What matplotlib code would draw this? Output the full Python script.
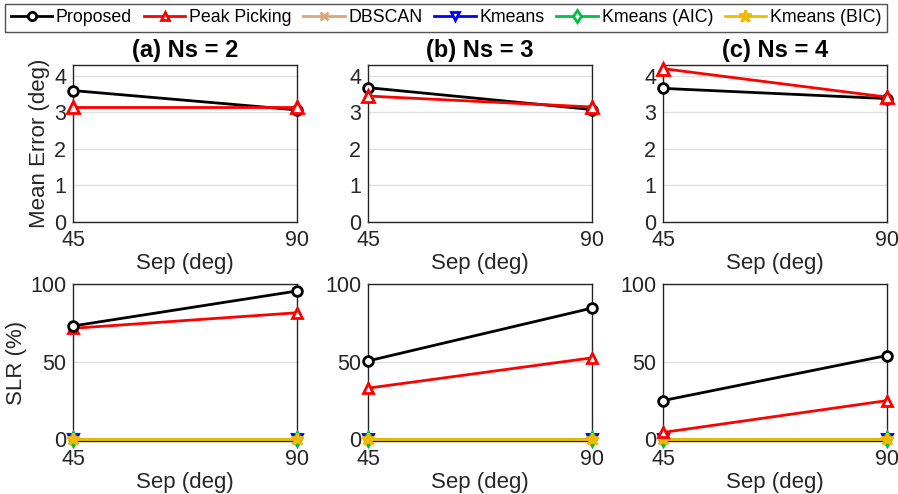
import numpy as np
import matplotlib.pyplot as plt
from matplotlib.lines import Line2D

plt.rcParams['font.family'] = ['Liberation Sans', 'DejaVu Sans']

# data
sep = [45, 90]
titles = ['(a) Ns = 2', '(b) Ns = 3', '(c) Ns = 4']
methods = ['Proposed', 'Peak Picking', 'DBSCAN', 'Kmeans', 'Kmeans (AIC)', 'Kmeans (BIC)']

# mean error (deg) per panel, only Proposed and Peak Picking shown
err_proposed = [[3.60, 3.07], [3.68, 3.08], [3.66, 3.38]]
err_peak = [[3.15, 3.15], [3.45, 3.15], [4.20, 3.42]]

# SLR (%) per panel
slr_proposed = [[73, 95.5], [50.5, 84.5], [25, 54]]
slr_peak = [[71.5, 81.5], [33, 52.5], [4.5, 25]]
slr_zero = [[0, 0], [0, 0], [0, 0]]

colors = ['black', '#FF0000', '#D9A677', '#0000FF', '#00C040', '#F5B800']
markers = ['o', '^', 'x', 'v', 'd', '*']

fig = plt.figure(figsize=(8.98, 4.94), dpi=100)
W, H = 898, 494
lefts = [73, 368, 663]
width = 224

def px_axes(l, t, w, h):
    return fig.add_axes([l / W, 1 - (t + h) / H, w / W, h / H])

def style(ax, ylim, yticks):
    ax.set_xlim(45, 90)
    ax.set_ylim(*ylim)
    ax.set_xticks(sep)
    ax.set_yticks(yticks)
    ax.grid(axis='y', color='#e0e0e0', linewidth=1)
    ax.set_axisbelow(True)
    ax.tick_params(labelsize=15.5, length=0, colors='#262626')
    ax.tick_params(axis='x', pad=6)
    ax.tick_params(axis='y', pad=5)
    for s in ax.spines.values():
        s.set_color('#262626')
        s.set_linewidth(1.0)
    ax.set_xlabel('Sep (deg)', fontsize=16, color='#262626', labelpad=1)

for i in range(3):
    # top row: mean error
    ax = px_axes(lefts[i], 65, width, 157)
    ax.plot(sep, err_proposed[i], color=colors[0], marker='o', mfc='white',
            mec=colors[0], mew=2, ms=7, lw=2, clip_on=False, zorder=4)
    ax.plot(sep, err_peak[i], color=colors[1], marker='^', mfc='white',
            mec=colors[1], mew=2, ms=8, lw=2, clip_on=False, zorder=5)
    style(ax, (0, 4.3), [0, 1, 2, 3, 4])
    ax.set_title(titles[i], fontsize=17, fontweight='bold', pad=6)
    if i == 0:
        ax.set_ylabel('Mean Error (deg)', fontsize=16, color='#262626', labelpad=3)

    # bottom row: SLR
    ax = px_axes(lefts[i], 284, width, 157)
    ys = [slr_proposed[i], slr_peak[i]] + [slr_zero[i]] * 4
    order = [2, 3, 4, 5, 1, 0]
    for k in order:
        mk = markers[k]
        ax.plot(sep, ys[k], color=colors[k], marker=mk,
                mfc='white' if mk in 'o^vd' else colors[k], mec=colors[k],
                mew=2, ms=9 if mk == '*' else 7, lw=2, clip_on=False,
                zorder=3 + (k == 5) + 2 * (k < 2))
    style(ax, (-1, 100), [0, 50, 100])
    if i == 0:
        ax.set_ylabel('SLR (%)', fontsize=16, color='#262626', labelpad=2)

handles = []
for k, m in enumerate(methods):
    mk = markers[k]
    handles.append(Line2D([], [], color=colors[k], marker=mk, lw=2, mew=2,
                          ms=9 if mk == '*' else 6,
                          mfc='white' if mk in 'o^vd' else colors[k],
                          mec=colors[k], label=m))
leg = fig.legend(handles=handles, loc='upper center', bbox_to_anchor=(0.4967, 0.992),
                 ncol=6, fontsize=12.8, frameon=True, fancybox=False,
                 handlelength=2.35, handletextpad=0.2, columnspacing=0.65,
                 borderpad=0.3, borderaxespad=0)
leg.get_frame().set_edgecolor('#262626')
leg.get_frame().set_linewidth(1.0)

fig.savefig('out.png', dpi=100)
